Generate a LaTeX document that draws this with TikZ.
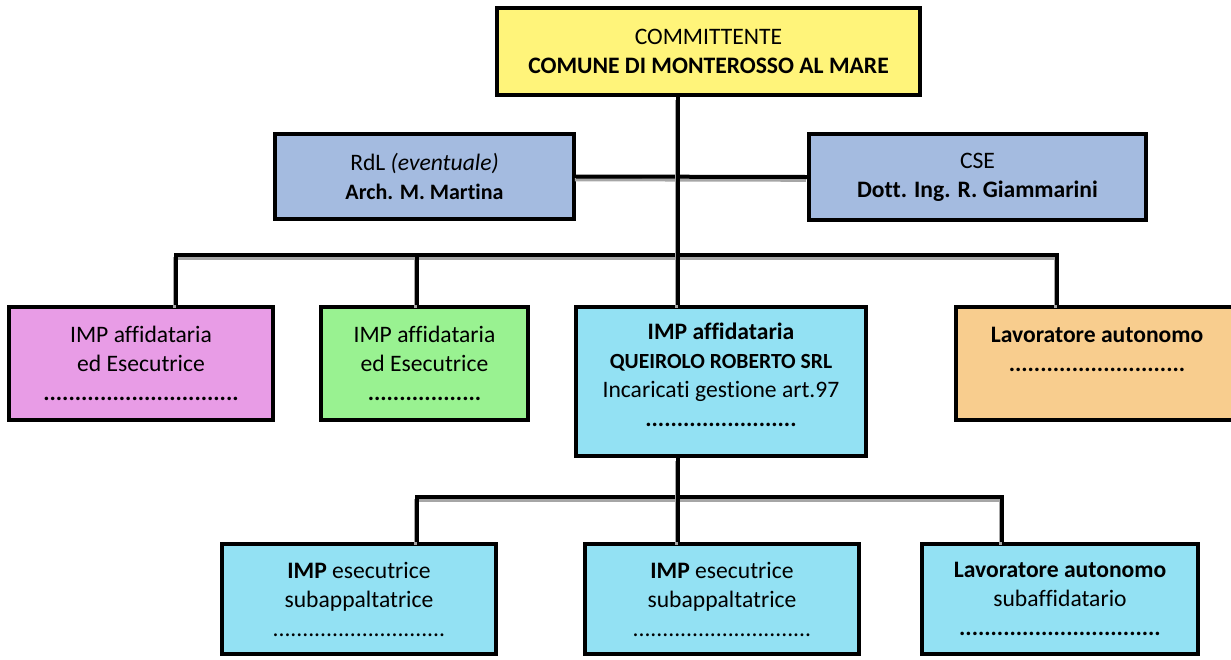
\documentclass[tikz,border=0pt]{standalone}
\usepackage{fontspec}
\setmainfont{Carlito}[Ligatures=NoCommon]
\usepackage{tikz}
\usetikzlibrary{positioning}
\definecolor{committente}{HTML}{FFF47A}
\definecolor{direzione}{HTML}{A4BBE0}
\definecolor{impviola}{HTML}{E89CE6}
\definecolor{impverde}{HTML}{99F291}
\definecolor{impciano}{HTML}{93E1F3}
\definecolor{autonomo}{HTML}{F8CD8E}

\begin{document}
\begin{tikzpicture}[x=0.5pt,y=-0.5pt,
 font=\fontsize{11.8}{14.5}\selectfont,
 ente/.style={draw=black,line width=2pt,inner sep=0pt,align=center},
 wire/.style={line width=2pt,preaction={draw=black!35,line width=1.6pt,transform canvas={shift={(-0.6pt,-1.6pt)}}}}]
\useasboundingbox (0,0) rectangle (1231,659);
% vertice
\node[ente,fill=committente,minimum width=211.5pt,minimum height=43.5pt] (comm) at (708.5,51.5)
 {COMMITTENTE\\\textbf{COMUNE DI MONTEROSSO AL MARE}};
\node[ente,fill=direzione,minimum width=149.5pt,minimum height=42.5pt] (rdl) at (424.5,176.5)
 {RdL \textit{(eventuale)}\\{\fontsize{11}{14}\selectfont\textbf{Arch. M. Martina}}};
\node[ente,fill=direzione,minimum width=168.5pt,minimum height=43pt] (cse) at (977.5,177)
 {CSE\\\textbf{Dott. Ing. R. Giammarini}};
% imprese
\node[ente,fill=impviola,minimum width=132pt,minimum height=56.5pt] (impa) at (141,363.5)
 {IMP affidataria\\ed Esecutrice\\\textbf{...............................}};
\node[ente,fill=impverde,minimum width=103.5pt,minimum height=56.5pt] (impb) at (424.5,363.5)
 {IMP affidataria\\ed Esecutrice\\\textbf{..................}};
\node[ente,fill=impciano,minimum width=145pt,minimum height=74.5pt,text depth=7pt] (impc) at (721,381.5)
 {\textbf{IMP affidataria}\\{\fontsize{10.8}{13}\selectfont\textbf{QUEIROLO ROBERTO SRL}\quad}\\Incaricati gestione art.97\\\textbf{........................}};
\node[ente,fill=autonomo,minimum width=141pt,minimum height=56.5pt] (lava) at (1097,363.5)
 {\textbf{Lavoratore autonomo}\\\textbf{............................}\\~};
% subappalti
\node[ente,fill=impciano,minimum width=137pt,minimum height=55pt] (suba) at (359,599)
 {\textbf{IMP} esecutrice\\subappaltatrice\\.............................};
\node[ente,fill=impciano,minimum width=137pt,minimum height=55pt] (subb) at (722,599)
 {\textbf{IMP} esecutrice\\subappaltatrice\\..............................};
\node[ente,fill=impciano,minimum width=138pt,minimum height=55pt] (subc) at (1060,599)
 {\textbf{Lavoratore autonomo}\\subaffidatario\\\textbf{................................}};
% linee
\coordinate (trunk) at (678,0);
\coordinate (d1) at (176,255);
\coordinate (d2) at (417,255);
\coordinate (d4) at (1057,255);
\coordinate (e1) at (417,497);
\coordinate (e3) at (1002,497);
\draw[wire] (rdl.east) -- (cse.west);
\draw[wire] (d1 |- impa.north) -- (d1) -- (d4) -- (d4 |- lava.north);
\draw[wire] (d2) -- (d2 |- impb.north);
\draw[wire] (e1 |- suba.north) -- (e1) -- (e3) -- (e3 |- subc.north);
\draw[wire] (comm.south -| trunk) -- (impc.north -| trunk);
\draw[wire] (impc.south -| trunk) -- (subb.north -| trunk);
\end{tikzpicture}
\end{document}
